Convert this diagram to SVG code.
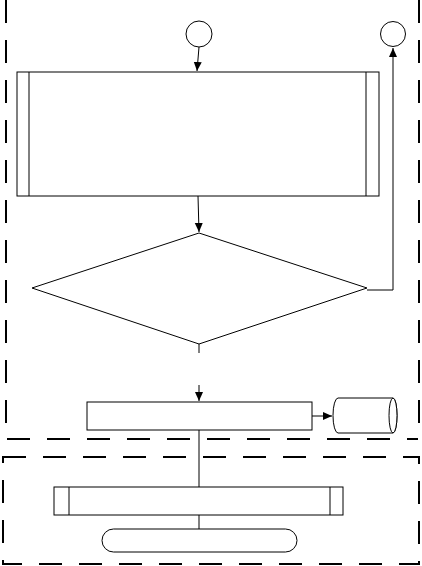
<svg xmlns="http://www.w3.org/2000/svg" width="422" height="566" viewBox="0 0 422 566">
<style>
.n{fill:#fff;stroke:#000;stroke-width:1}
.c{fill:none;stroke:#000;stroke-width:1}
.d{fill:none;stroke:#000;stroke-width:2;stroke-dasharray:23 17}
</style>
<defs>
<marker id="a" markerWidth="10" markerHeight="10" refX="9" refY="5" orient="auto" markerUnits="userSpaceOnUse">
<path d="M0,1 L9,5 L0,9 Z" fill="#000"/>
</marker>
</defs>
<rect width="422" height="566" fill="#fff"/>
<g id="lanes">
<path class="d" d="M6,0 V439 H418 M419,0 V433"/>
<rect class="d" x="3" y="457" width="416" height="107"/>
</g>
<g id="connectors">
<path class="c" d="M199,47 L197,71" marker-end="url(#a)"/>
<path class="c" d="M198,196 L199,232" marker-end="url(#a)"/>
<path class="c" d="M367,290 H393 V48" marker-end="url(#a)"/>
<path class="c" d="M199,344 V353"/>
<path class="c" d="M199,385 V401" marker-end="url(#a)"/>
<path class="c" d="M312,416 H332" marker-end="url(#a)"/>
<path class="c" d="M199,430 V487"/>
<path class="c" d="M199,515 V529"/>
</g>
<g id="start"><circle class="n" cx="199" cy="34" r="13"/></g>
<g id="end"><circle class="n" cx="393" cy="34" r="12.5"/></g>
<g id="process1">
<rect class="n" x="17" y="72" width="362" height="124"/>
<path class="c" d="M29,72 V196 M366,72 V196"/>
</g>
<g id="decision"><path class="n" d="M199,233 L367,288 L199,344 L32,288 Z"/></g>
<g id="process2"><rect class="n" x="87" y="402" width="225" height="28"/></g>
<g id="storage">
<path class="n" d="M338,398 H393 A4,17.5 0 0 1 393,433 H338 A5,17.5 0 0 1 338,398 Z"/>
<ellipse class="n" cx="393" cy="415.5" rx="4" ry="17.5"/>
</g>
<g id="process3">
<rect class="n" x="54" y="487" width="289" height="28"/>
<path class="c" d="M69,487 V515 M330,487 V515"/>
</g>
<g id="terminator"><rect class="n" x="102" y="529" width="195" height="23" rx="11.5"/></g>
</svg>
